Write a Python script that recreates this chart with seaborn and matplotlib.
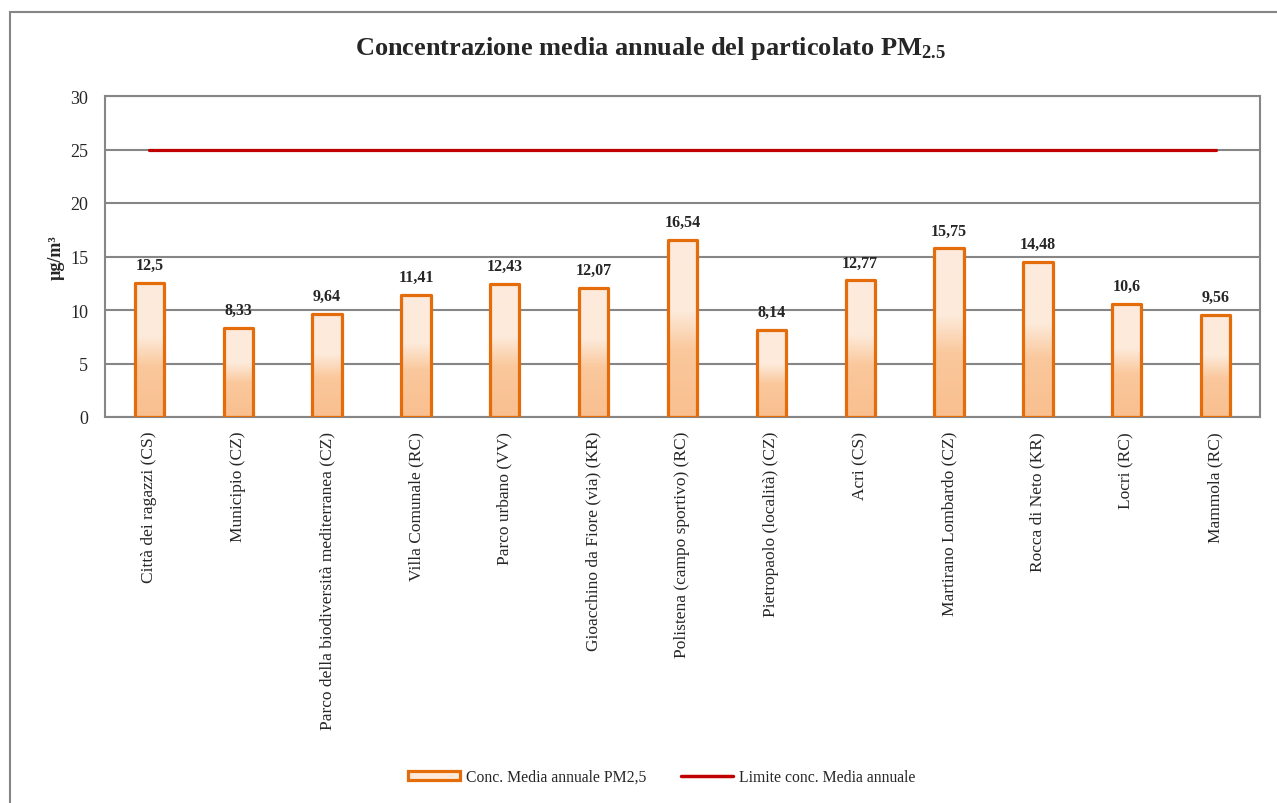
import numpy as np
import pandas as pd
import seaborn as sns
import matplotlib.pyplot as plt
from matplotlib.colors import LinearSegmentedColormap
from matplotlib.patches import Rectangle, Patch
from matplotlib.lines import Line2D

stations = ['Città dei ragazzi (CS)', 'Municipio (CZ)',
            'Parco della biodiversità mediterranea (CZ)', 'Villa Comunale (RC)',
            'Parco urbano (VV)', 'Gioacchino da Fiore (via) (KR)',
            'Polistena (campo sportivo) (RC)', 'Pietropaolo (località) (CZ)',
            'Acri (CS)', 'Martirano Lombardo (CZ)', 'Rocca di Neto (KR)',
            'Locri (RC)', 'Mammola (RC)']
pm25 = [12.5, 8.33, 9.64, 11.41, 12.43, 12.07, 16.54, 8.14, 12.77, 15.75, 14.48, 10.6, 9.56]
value_labels = ['12,5', '8,33', '9,64', '11,41', '12,43', '12,07', '16,54', '8,14',
                '12,77', '15,75', '14,48', '10,6', '9,56']
limit = [25] * len(stations)

sns.set_style('white')
plt.rcParams['font.family'] = ['Liberation Serif', 'DejaVu Serif']
plt.rcParams['mathtext.fontset'] = 'custom'
plt.rcParams['mathtext.rm'] = 'Liberation Serif:bold'
plt.rcParams['mathtext.it'] = 'Liberation Serif:bold'
plt.rcParams['mathtext.bf'] = 'Liberation Serif:bold'

df = pd.DataFrame({'stazione': stations, 'pm25': pm25, 'limite': limit})

orange = '#E46C0A'
red = '#C00000'
grey = '#868686'

fig = plt.figure(figsize=(12.77, 8.04), dpi=100)
ax = fig.add_axes([105 / 1277, 1 - 418 / 804, 1155 / 1277, 321 / 804])

sns.barplot(data=df, x='stazione', y='pm25', ax=ax, width=0.33,
            color='#FDEADA', saturation=1, edgecolor=orange, linewidth=2.3, zorder=3)
sns.lineplot(x=np.arange(len(stations)), y=df['limite'], ax=ax,
             color=red, linewidth=2.3, zorder=4)

# gradient fill inside each bar
cmap = LinearSegmentedColormap.from_list(
    'peach', [(0, '#F9BF8F'), (0.38, '#FAC89C'), (0.6, '#FDEADA'), (1, '#FDEBDD')])
grad = np.linspace(0, 1, 256).reshape(-1, 1)
for p in ax.patches:
    x0, y0 = p.get_x(), p.get_y()
    w, h = p.get_width(), p.get_height()
    p.set_facecolor('none')
    p.set_joinstyle('round')
    im = ax.imshow(grad, cmap=cmap, origin='lower', aspect='auto',
                   extent=[x0, x0 + w, y0, y0 + h], zorder=2)
    im.set_clip_path(p)

for i, v in enumerate(pm25):
    ax.annotate(value_labels[i], (i, v), xytext=(0, 10), textcoords='offset points',
                ha='center', va='baseline', fontsize=11.5, fontweight='bold')

ax.set_xlim(-0.5, len(stations) - 0.5)
ax.set_ylim(0, 30)
ax.set_yticks(range(0, 31, 5))
ax.yaxis.grid(True, color=grey, linewidth=1.5, zorder=0)
ax.set_axisbelow(True)
for s in ax.spines.values():
    s.set_color(grey)
    s.set_linewidth(1.5)
ax.tick_params(axis='both', length=0, labelsize=13)
ax.tick_params(axis='y', pad=12)
ax.tick_params(axis='x', pad=10)
ax.set_xticks(range(len(stations)))
ax.set_xticklabels(stations, rotation=90, fontsize=12.5)
ax.set_xlabel('')
ax.set_ylabel('')

fig.text(56 / 1277, 1 - 258 / 804, 'µg/m³', rotation=90, ha='center', va='center',
         fontsize=13, fontweight='bold')
fig.text(650 / 1277, 1 - 48 / 804, 'Concentrazione media annuale del particolato PM$_{2.5}$',
         ha='center', va='center', fontsize=19, fontweight='bold')

handles = [Patch(facecolor='#FDEADA', edgecolor=orange, linewidth=2.3),
           Line2D([0], [0], color=red, linewidth=2.5)]
fig.legend(handles, ['Conc. Media annuale PM2,5', 'Limite conc. Media annuale'],
           loc='center', bbox_to_anchor=(662 / 1277, 1 - 778 / 804), ncol=2,
           frameon=False, fontsize=11.3, handlelength=3.3, handleheight=0.45,
           columnspacing=2.2, handletextpad=0.4)

fig.patches.append(Rectangle((10 / 1277, -0.1), 1.2, 1 - 13 / 804 + 0.1,
                             transform=fig.transFigure, fill=False,
                             edgecolor=grey, linewidth=1.5))

fig.savefig('out.png', dpi=100)
